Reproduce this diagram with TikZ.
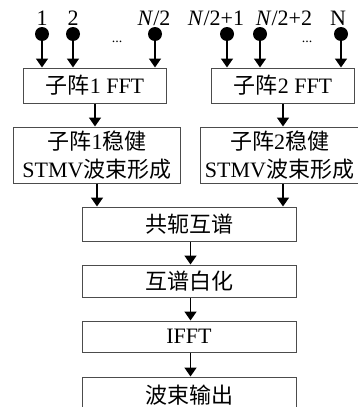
\documentclass[tikz,border=0pt]{standalone}
\usepackage{fontspec}
\setmainfont{Liberation Serif}
\newfontfamily\cjk{Noto Sans CJK SC}
\usetikzlibrary{arrows.meta}
\tikzset{
  box/.style={draw=black!70, line width=1pt, inner sep=0pt, align=center,
    font=\fontsize{22}{28}\selectfont},
  arr/.style={line width=1.6pt, -{Triangle[length=9pt,width=12pt]}},
  pin/.style={circle, fill=black, inner sep=0pt, minimum size=14pt},
  lab/.style={font=\fontsize{22}{24}\selectfont, inner sep=0pt}
}
\begin{document}
\begin{tikzpicture}[x=1pt,y=-1pt]
\useasboundingbox (0,0) rectangle (357,407);
% top boxes
\node[box, minimum width=143pt, minimum height=35pt] (fft1) at (95,85.5) {{\cjk 子阵}1 FFT};
\node[box, minimum width=143pt, minimum height=35pt] (fft2) at (283,85.5) {{\cjk 子阵}2 FFT};
\node[box, minimum width=167pt, minimum height=56pt] (bf1) at (97,155) {{\cjk 子阵}1{\cjk 稳健}\\STMV{\cjk 波束形成}};
\node[box, minimum width=159pt, minimum height=56pt] (bf2) at (279.5,155) {{\cjk 子阵}2{\cjk 稳健}\\STMV{\cjk 波束形成}};
% lower chain
\node[box, minimum width=214pt, minimum height=34pt] (cs) at (189,224) {\cjk 共轭互谱};
\node[box, minimum width=214pt, minimum height=32pt] (wh) at (189,281) {\cjk 互谱白化};
\node[box, minimum width=214pt, minimum height=31pt] (ifft) at (189,336.5) {IFFT};
\node[box, minimum width=214pt, minimum height=36pt] (out) at (189,395) {\cjk 波束输出};
% pins
\node[pin] (p1) at (42,34) {};
\node[pin] (p2) at (73,34) {};
\node[pin] (p3) at (155,34) {};
\node[pin] (p4) at (227,34) {};
\node[pin] (p5) at (260,34) {};
\node[pin] (p6) at (341,34) {};
\node[lab] (l1) at (42,18) {1};
\node[lab] (l2) at (73,18) {2};
\node[lab] (l3) at (154,18) {\textit{N}/2};
\node[lab] (l4) at (216,18) {\textit{N}/2+1};
\node[lab] (l5) at (284,18) {\textit{N}/2+2};
\node[lab] (l6) at (338,18) {N};
\node[lab, font=\fontsize{14}{14}\selectfont] (d1) at (117,42) {...};
\node[lab, font=\fontsize{14}{14}\selectfont] (d2) at (307,42) {...};
% arrows
\foreach \p/\b in {p1/fft1,p2/fft1,p3/fft1,p4/fft2,p5/fft2,p6/fft2}
  \draw[arr] (\p.center) -- (\p |- \b.north);
\draw[arr] (fft1.south) -- (fft1.south |- bf1.north);
\draw[arr] (fft2.south) -- (fft2.south |- bf2.north);
\draw[arr] (bf1.south) -- (bf1.south |- cs.north);
\draw[arr] (fft2.south |- bf2.south) -- (fft2.south |- cs.north);
\draw[arr] ([xshift=1.5pt]cs.south) -- ([xshift=1.5pt]wh.north);
\draw[arr] ([xshift=1.5pt]wh.south) -- ([xshift=1.5pt]ifft.north);
\draw[arr] ([xshift=1.5pt]ifft.south) -- ([xshift=1.5pt]out.north);
\end{tikzpicture}
\end{document}
